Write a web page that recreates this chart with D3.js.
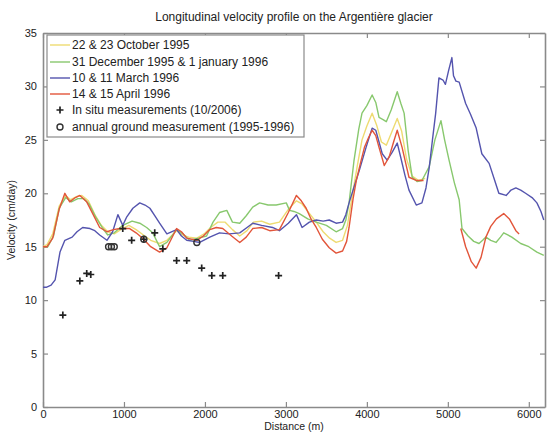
<!DOCTYPE html>
<html>
<head>
<meta charset="utf-8">
<script src="https://cdn.jsdelivr.net/npm/d3@7"></script>
<style>
  body { margin: 0; background: #fff; }
  text { font-family: "Liberation Sans", Arial, sans-serif; fill: #222; }
</style>
</head>
<body>
<div id="chart"></div>
<script>
// distance (m) / velocity (cm/day)
var octD = [0,50,120,200,280,340,420,480,560,640,720,800,880,960,1060,1150,1240,1330,1440,1530,1650,1720,1800,1900,1990,2070,2160,2250,2340,2430,2520,2600,2700,2800,2920,3030,3130,3200,3280,3375,3460,3540,3620,3700,3760,3820,3880,3940,4000,4065,4120,4180,4240,4300,4375,4430,4490,4560,4640,4720];
var octV = [15.0,15.2,16.2,18.8,19.8,19.4,19.7,19.8,19.3,18.0,17.0,16.4,16.2,16.6,17.0,16.6,16.1,15.6,15.3,15.6,16.5,16.1,15.9,15.8,16.2,16.8,17.3,17.3,16.6,16.0,16.5,17.3,17.4,17.1,17.3,18.5,19.3,19.0,18.2,17.3,16.4,15.8,15.4,15.6,17.0,19.8,22.5,25.0,26.3,27.5,26.4,24.8,24.5,25.6,27.0,25.8,23.2,21.6,21.2,21.4];

var decD = [0,60,130,200,280,350,430,500,570,650,730,800,880,985,1100,1195,1280,1355,1440,1530,1650,1730,1810,1920,2020,2100,2180,2270,2340,2430,2510,2590,2675,2780,2880,3005,3045,3100,3165,3270,3375,3500,3620,3700,3740,3780,3840,3900,3940,4000,4065,4110,4150,4200,4240,4300,4375,4420,4460,4510,4560,4620,4680,4770,4840,4915,4960,5015,5080,5140,5175,5250,5320,5385,5430,5470,5530,5595,5650,5690,5740,5790,5900,6000,6100,6185];
var decV = [15.0,15.0,16.0,18.6,19.6,19.2,19.5,19.5,19.0,17.8,16.8,16.1,16.3,17.0,17.4,17.2,16.8,16.3,15.0,15.4,16.6,16.2,15.6,15.8,16.0,17.3,18.2,18.4,17.3,17.2,17.9,18.7,19.1,18.9,18.9,19.1,18.4,18.3,18.1,17.6,17.3,17.0,16.4,16.7,17.5,19.1,23.0,26.0,27.5,28.2,29.2,28.5,27.1,26.9,26.7,27.8,29.5,28.4,27.5,24.0,21.5,21.1,21.2,22.5,25.0,26.8,25.0,23.1,21.0,19.4,16.7,16.0,15.5,15.3,15.6,15.9,15.6,15.4,15.9,16.3,16.1,15.9,15.3,15.0,14.5,14.2];

var marD = [0,40,100,150,210,270,360,420,490,580,640,700,790,860,925,985,1035,1110,1195,1260,1320,1380,1440,1530,1650,1710,1775,1860,1935,2060,2180,2300,2430,2520,2590,2700,2835,2920,3030,3130,3200,3290,3375,3460,3535,3620,3700,3740,3780,3850,3905,3990,4065,4110,4150,4190,4250,4310,4375,4420,4470,4520,4610,4680,4730,4770,4810,4850,4890,4940,4970,5010,5050,5070,5100,5140,5220,5280,5350,5420,5510,5570,5630,5720,5780,5840,5900,5960,6040,6100,6150,6185];
var marV = [11.2,11.2,11.4,11.9,14.5,15.6,15.9,16.4,16.8,16.7,16.5,16.1,15.6,16.4,18.0,17.0,17.8,18.6,19.1,18.9,18.6,17.9,17.2,16.2,16.6,16.0,15.6,15.5,15.4,15.9,16.3,16.2,16.3,16.8,17.2,17.0,16.8,16.5,17.2,18.0,16.8,17.3,17.5,17.4,17.5,17.2,17.3,18.0,19.1,20.8,22.1,24.3,26.1,25.9,24.8,23.7,23.1,23.8,24.7,23.3,21.7,20.3,18.9,19.1,20.5,22.4,25.0,27.5,30.8,30.6,30.2,31.5,32.7,31.0,30.5,30.4,28.4,27.4,26.1,23.7,22.8,21.4,20.0,19.8,20.3,20.5,20.3,20.0,19.6,19.1,18.3,17.5];

// April series has no data between ~4700 and ~5160 m
var aprD = [0,50,120,200,270,330,400,455,540,620,700,790,870,950,1070,1150,1230,1330,1440,1530,1650,1710,1775,1900,1980,2060,2140,2220,2330,2430,2510,2590,2700,2800,2920,3030,3130,3190,3250,3310,3375,3450,3535,3620,3700,3750,3780,3830,3870,3920,3970,4020,4065,4110,4150,4215,4275,4330,4375,4435,4480,4520,4610,4700,4900,5160,5220,5290,5350,5410,5470,5530,5600,5690,5760,5840,5880];
var aprV = [15.0,15.0,15.8,18.5,20.0,19.2,19.6,19.8,19.2,18.0,16.8,16.4,16.6,16.7,16.7,16.3,15.8,15.0,14.5,14.9,16.7,16.4,15.8,15.6,16.0,16.6,16.8,16.7,16.0,15.4,15.9,16.7,16.8,16.5,16.6,18.2,19.8,19.3,18.6,17.6,16.8,15.7,14.9,14.4,14.6,15.5,16.8,19.5,21.2,22.8,24.3,25.2,25.9,25.4,24.3,22.6,23.4,24.8,25.9,24.3,22.8,21.5,21.2,21.2,NaN,16.7,15.0,13.6,13.0,14.0,15.9,16.9,17.6,18.1,17.6,16.5,16.2];

var insituD = [245,455,540,590,985,1095,1245,1380,1480,1650,1775,1960,2085,2220,2910];
var insituV = [8.6,11.8,12.5,12.4,16.7,15.6,15.7,16.3,14.8,13.7,13.7,13.0,12.3,12.3,12.3];
var annualD = [810,845,880,1245,1900];
var annualV = [15.0,15.0,15.0,15.7,15.4];

var xTicks = [0,1000,2000,3000,4000,5000,6000];
var yTicks = [0,5,10,15,20,25,30,35];

var seriesNames = ["22 & 23 October 1995","31 December 1995 & 1 january 1996","10 & 11 March 1996","14 & 15 April 1996"];
var seriesColors = ["#eedb72","#88c86e","#5454ae","#e2553a"];

var W = 547, H = 432;
var margin = {top: 33, right: 2, bottom: 25, left: 43};
var width = W - margin.left - margin.right,
    height = H - margin.top - margin.bottom;

var svg = d3.select("#chart").append("svg")
  .attr("width", W).attr("height", H);

var g = svg.append("g").attr("transform", "translate(" + margin.left + "," + margin.top + ")");

var x = d3.scaleLinear().domain([0, 6200]).range([0, width]);
var y = d3.scaleLinear().domain([0, 35]).range([height, 0]);

// title
svg.append("text")
  .attr("x", margin.left + width / 2).attr("y", 21)
  .attr("text-anchor", "middle").style("font-size", "12px")
  .text("Longitudinal velocity profile on the Argentière glacier");

// axes, matlab style: ticks inside on all four sides
var axCol = "#8a8a8a";
g.append("g").attr("transform", "translate(0," + height + ")")
  .call(d3.axisBottom(x).tickValues(xTicks).tickSizeInner(-5).tickSizeOuter(0).tickPadding(3).tickFormat(d3.format("d")));
g.append("g")
  .call(d3.axisLeft(y).tickValues(yTicks).tickSizeInner(-5).tickSizeOuter(0).tickPadding(6));
g.append("g")
  .call(d3.axisTop(x).tickValues(xTicks).tickSizeInner(-5).tickSizeOuter(0).tickFormat(""));
g.append("g").attr("transform", "translate(" + width + ",0)")
  .call(d3.axisRight(y).tickValues(yTicks).tickSizeInner(-5).tickSizeOuter(0).tickFormat(""));
g.selectAll(".domain").attr("stroke", axCol).attr("stroke-width", 1.6);
g.selectAll(".tick line").attr("stroke", axCol).attr("stroke-width", 1.2);
g.selectAll(".tick text").style("font-size", "11px").attr("fill", "#222");

// axis labels
svg.append("text")
  .attr("x", margin.left + width / 2).attr("y", H - 2)
  .attr("text-anchor", "middle").style("font-size", "10.5px")
  .text("Distance (m)");
svg.append("text")
  .attr("transform", "translate(15," + (margin.top + height / 2) + ")rotate(-90)")
  .attr("text-anchor", "middle").style("font-size", "10.5px")
  .text("Velocity (cm/day)");

// lines
var line = d3.line()
  .defined(function(d) { return !isNaN(d[1]); })
  .x(function(d) { return x(d[0]); })
  .y(function(d) { return y(d[1]); });

var series = [
  d3.zip(octD, octV),
  d3.zip(decD, decV),
  d3.zip(marD, marV),
  d3.zip(aprD, aprV)
];

g.selectAll("path.series")
  .data(series)
  .enter().append("path")
  .attr("class", "series")
  .attr("d", line)
  .attr("fill", "none")
  .attr("stroke", function(d, i) { return seriesColors[i]; })
  .attr("stroke-width", 1.4)
  .attr("stroke-linejoin", "round");

// in situ crosses
g.selectAll("path.insitu")
  .data(d3.zip(insituD, insituV))
  .enter().append("path")
  .attr("class", "insitu")
  .attr("transform", function(d) { return "translate(" + x(d[0]) + "," + y(d[1]) + ")"; })
  .attr("d", "M-3.5,0H3.5M0,-3.5V3.5")
  .attr("stroke", "#222").attr("stroke-width", 1.7);

// annual ground measurement circles
g.selectAll("circle.annual")
  .data(d3.zip(annualD, annualV))
  .enter().append("circle")
  .attr("class", "annual")
  .attr("cx", function(d) { return x(d[0]); })
  .attr("cy", function(d) { return y(d[1]); })
  .attr("r", 3)
  .attr("fill", "none").attr("stroke", "#333").attr("stroke-width", 1.4);

// legend
var leg = svg.append("g").attr("transform", "translate(47,35)");
leg.append("rect").attr("width", 257).attr("height", 102)
  .attr("fill", "#fff").attr("stroke", axCol).attr("stroke-width", 1.2);
var rowY = [10, 27, 43, 59, 75, 92];
seriesNames.forEach(function(name, i) {
  leg.append("line").attr("x1", 3).attr("x2", 23)
    .attr("y1", rowY[i]).attr("y2", rowY[i])
    .attr("stroke", seriesColors[i]).attr("stroke-width", 1.4);
  leg.append("text").attr("x", 25).attr("y", rowY[i] + 4)
    .style("font-size", "12px").text(name);
});
leg.append("path").attr("transform", "translate(13," + rowY[4] + ")")
  .attr("d", "M-3.5,0H3.5M0,-3.5V3.5").attr("stroke", "#222").attr("stroke-width", 1.7);
leg.append("text").attr("x", 25).attr("y", rowY[4] + 4)
  .style("font-size", "12px").text("In situ measurements (10/2006)");
leg.append("circle").attr("cx", 13).attr("cy", rowY[5]).attr("r", 3)
  .attr("fill", "none").attr("stroke", "#333").attr("stroke-width", 1.4);
leg.append("text").attr("x", 25).attr("y", rowY[5] + 4)
  .style("font-size", "12px").text("annual ground measurement (1995-1996)");
</script>
</body>
</html>
